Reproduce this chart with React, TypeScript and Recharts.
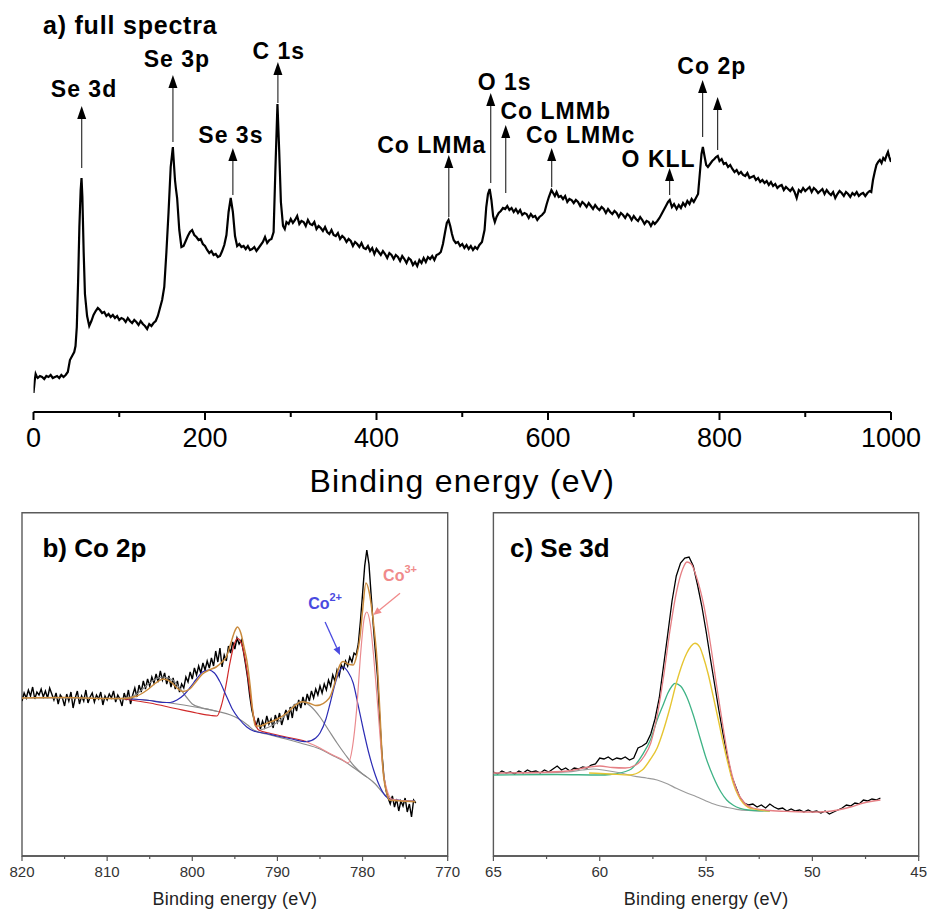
import React from 'react';
import { LineChart, Line, XAxis, YAxis, ReferenceLine, ReferenceDot, ReferenceArea } from 'recharts';

const FONT = '"Liberation Sans", Arial, Helvetica, sans-serif';

// ---------- a) survey spectrum: [binding energy eV, intensity a.u.] ----------
const surveyPoints: [number, number][] = [
  [0,19],[1.5,32],[2.5,38],[4,35],[5,34],[7.5,36],[10,35],[12.5,33],[15,36],[17.5,35],[20,37],[22.5,34],[25,35],[27.5,36],[30,34],[32.5,37],[35,35],[37.5,37],[40,40],[42.5,52],[45,56],[47.5,60],[49,66],[50.5,85],[52,130],[53.5,185],[55,222],[56,234],[57,215],[58.5,160],[60,118],[62.5,96],[65,86],[67.5,91],[70,97],[72.5,101],[75,104],[77.5,102],[80,99],[82.5,100],[85,96],[87.5,98],[90,95],[92.5,97],[95,94],[97.5,96],[100,92],[102.5,94],[105,93],[107.5,90],[110,94],[112.5,91],[115,89],[117.5,92],[120,90],[122.5,87],[125,91],[127.5,88],[130,86],[132.5,83],[135,88],[137.5,86],[140,89],[142.5,91],[145,96],[147.5,104],[150,112],[152.5,125],[155,160],[157.5,200],[160,245],[162.5,265],[164,245],[165,232],[166,224],[167.5,214],[170,182],[172.5,165],[175,166],[177.5,171],[180,176],[182.5,180],[185,182],[187.5,177],[190,175],[192.5,172],[195,173],[197.5,168],[200,166],[202.5,162],[205,159],[207.5,161],[210,157],[212.5,158],[215,155],[217.5,156],[220,161],[222.5,167],[225,177],[227.5,200],[230,214],[232.5,200],[235,176],[237.5,166],[240,168],[242.5,165],[245,166],[247.5,163],[250,166],[252.5,162],[255,163],[257.5,165],[260,161],[262.5,164],[265,167],[267.5,170],[270,175],[272.5,169],[275,172],[277.5,173],[280,180],[282,240],[284.5,308],[286.5,262],[288.5,210],[291,186],[293,183],[295,190],[297.5,188],[300,193],[302.5,189],[305,192],[307.5,196],[310,188],[312.5,191],[315,190],[317.5,186],[320,192],[322.5,188],[325,187],[327.5,190],[330,183],[332.5,186],[335,184],[337.5,181],[340,185],[342.5,180],[345,178],[347.5,182],[350,177],[352.5,176],[355,179],[357.5,173],[360,176],[362.5,174],[365,170],[367.5,173],[370,171],[372.5,166],[375,170],[377.5,168],[380,165],[382.5,169],[385,164],[387.5,163],[390,166],[392.5,161],[395,164],[397.5,158],[400,163],[402.5,160],[405,157],[407.5,161],[410,158],[412.5,154],[415,159],[417.5,157],[420,153],[422.5,157],[425,155],[427.5,151],[430,156],[432.5,153],[435,149],[437.5,154],[440,152],[442.5,147],[445,150],[447.5,146],[450,152],[452.5,149],[455,154],[457.5,150],[460,155],[462.5,153],[465,156],[467.5,152],[470,157],[472.5,158],[475,160],[477.5,168],[480,180],[482,189],[484,192],[486,186],[488,178],[490,172],[492.5,169],[495,170],[497.5,166],[500,168],[502.5,164],[505,167],[507.5,163],[510,166],[512.5,162],[515,165],[517.5,163],[520,167],[523,170],[526,182],[528,205],[530,218],[532,223],[534,212],[536,196],[538,190],[540,195],[542.5,199],[545,201],[547.5,204],[550,203],[552.5,206],[555,202],[557.5,204],[560,200],[562.5,203],[565,199],[567.5,202],[570,197],[572.5,199],[575,198],[577.5,194],[580,198],[582.5,195],[585,196],[587.5,192],[590,195],[593,197],[596,200],[598.5,208],[601,215],[604,222],[606,219],[608,216],[610,220],[612.5,215],[615,216],[617.5,213],[620,216],[622.5,210],[625,213],[627.5,212],[630,209],[632.5,212],[635,210],[637.5,206],[640,210],[642.5,208],[645,205],[647.5,209],[650,206],[652.5,203],[655,207],[657.5,204],[660,202],[662.5,205],[665,203],[667.5,199],[670,203],[672.5,200],[675,198],[677.5,201],[680,199],[682.5,195],[685,199],[687.5,197],[690,194],[692.5,198],[695,196],[697.5,192],[700,196],[702.5,193],[705,191],[707.5,195],[710,192],[712.5,188],[715,191],[717.5,190],[720,186],[722.5,190],[724.5,188],[727.5,191],[730,194],[732.5,198],[735,202],[737.5,206],[740,210],[742,212],[744.5,205],[747,208],[750,203],[752.5,207],[755,204],[757.5,209],[760,206],[762.5,211],[765,208],[767.5,213],[770,210],[772.5,214],[775,218],[777,238],[779,258],[780.6,265],[782.5,256],[784.5,247],[786.5,245],[789,248],[791.5,251],[794,253],[796,255],[798,256],[800,251],[802.5,253],[805,248],[807.5,249],[810,245],[812.5,247],[815,243],[817.5,240],[820,242],[822.5,238],[825,240],[827.5,237],[830,236],[832.5,239],[835,234],[837.5,235],[840,236],[842.5,232],[845,234],[847.5,230],[850,232],[852.5,229],[855,231],[857.5,227],[860,230],[862.5,226],[865,228],[867.5,224],[870,226],[872.5,227],[875,222],[877.5,225],[880,223],[882.5,221],[885,224],[887.5,220],[890,214],[892.5,222],[895,220],[897.5,224],[900,221],[902.5,223],[905,225],[907.5,220],[910,224],[912.5,222],[915,219],[917.5,221],[920,223],[922.5,218],[925,222],[927.5,219],[930,217],[932.5,220],[935,214],[937.5,218],[940,221],[942.5,219],[945,216],[947.5,220],[950,218],[952.5,215],[955,219],[957.5,217],[960,220],[962.5,216],[965,218],[967.5,219],[970,216],[972.5,219],[975,221],[977,220],[979,232],[981,240],[983,247],[985,250],[987,252],[989,249],[991,254],[993,252],[995,257],[996.5,260],[998,255],[1000,250],
];
const surveyTicks = [0, 100, 200, 300, 400, 500, 600, 700, 800, 900, 1000];
const surveyMajorTicks = [0, 200, 400, 600, 800, 1000];

// peak annotations: arrow at energy e from intensity base up to tip, label centred at (labelE, labelI)
const surveyArrows = [
  { label: 'Se 3d', e: 56.2, base: 244, tip: 306, labelE: 58.9, labelI: 323 },
  { label: 'Se 3p', e: 162.6, base: 270, tip: 337, labelE: 167.2, labelI: 353 },
  { label: 'Se 3s', e: 232.5, base: 217, tip: 264, labelE: 230.2, labelI: 277 },
  { label: 'C 1s', e: 285, base: 309, tip: 350, labelE: 286, labelI: 361 },
  { label: 'Co LMMa', e: 484.3, base: 195, tip: 257, labelE: 464.5, labelI: 267 },
  { label: 'O 1s', e: 533.2, base: 229, tip: 319, labelE: 549.5, labelI: 330 },
  { label: 'Co LMMb', e: 550.7, base: 219, tip: 287, labelE: 609, labelI: 301 },
  { label: 'Co LMMc', e: 604.3, base: 225, tip: 264, labelE: 638, labelI: 277 },
  { label: 'O KLL', e: 741.8, base: 217, tip: 244, labelE: 729, labelI: 253 },
  { label: 'Co 2p', e: 780.3, base: 275, tip: 332, labelE: 791, labelI: 346 },
  { label: '', e: 797.8, base: 262, tip: 315, labelE: 797.8, labelI: 315 },
];

// ---------- b) Co 2p ----------
const co2pRaw: [number, number][] = [
  [820,155],[819.75,163],[819.5,158],[819.25,166],[819,160],[818.75,169],[818.5,157],[818.25,164],[818,161],[817.75,167],[817.5,159],[817.25,165],[817,158],[816.75,168],[816.5,162],[816.25,156],[816,163],[815.75,152],[815.5,161],[815.25,158],[815,150],[814.75,162],[814.5,155],[814.25,164],[814,148],[813.75,158],[813.5,165],[813.25,152],[813,160],[812.75,155],[812.5,166],[812.25,153],[812,159],[811.75,163],[811.5,154],[811.25,161],[811,157],[810.75,164],[810.5,151],[810.25,160],[810,156],[809.75,162],[809.5,158],[809.25,165],[809,154],[808.75,161],[808.5,157],[808.25,150],[808,163],[807.75,156],[807.5,166],[807.25,152],[807,161],[806.75,168],[806.5,159],[806.25,171],[806,164],[805.75,175],[805.5,167],[805.25,177],[805,170],[804.75,179],[804.5,173],[804.25,182],[804,174],[803.75,185],[803.5,176],[803.25,183],[803,172],[802.75,180],[802.5,169],[802.25,178],[802,167],[801.75,175],[801.5,164],[801.25,172],[801,168],[800.75,179],[800.5,174],[800.25,184],[800,177],[799.75,188],[799.5,181],[799.25,190],[799,183],[798.75,193],[798.5,186],[798.25,195],[798,188],[797.75,198],[797.5,190],[797.25,205],[797,194],[796.75,208],[796.5,189],[796.25,201],[796,195],[795.75,210],[795.5,203],[795.25,214],[795,207],[794.75,218],[794.5,212],[794.25,216],[794,205],[793.75,192],[793.5,178],[793.25,160],[793,146],[792.75,137],[792.5,130],[792.25,138],[792,127],[791.75,135],[791.5,129],[791.25,140],[791,132],[790.75,137],[790.5,128],[790.25,141],[790,134],[789.75,143],[789.5,131],[789.25,139],[789,146],[788.75,136],[788.5,149],[788.25,138],[788,152],[787.75,145],[787.5,156],[787.25,148],[787,159],[786.75,151],[786.5,162],[786.25,155],[786,165],[785.75,158],[785.5,167],[785.25,161],[785,170],[784.75,163],[784.5,172],[784.25,166],[784,176],[783.75,170],[783.5,181],[783.25,175],[783,186],[782.75,180],[782.5,191],[782.25,187],[782,195],[781.75,190],[781.5,199],[781.25,194],[781,203],[780.75,201],[780.5,212],[780.25,235],[780,262],[779.75,290],[779.5,306],[779.25,292],[779,262],[778.75,232],[778.5,205],[778.25,180],[778,140],[777.75,105],[777.5,80],[777.25,66],[777,58],[776.75,52],[776.5,60],[776.25,49],[776,57],[775.75,45],[775.5,55],[775.25,50],[775,58],[774.75,44],[774.5,52],[774.25,39],[774,56],[773.75,53],
];
const co2pBackground: [number, number][] = [
  [820,158],[815,158],[810,157.5],[807,157],[805,155.5],[803,153.5],[801,151],[799,148],[797,144.5],[795.5,141],[794.5,137],[793.5,131],[792.8,126],[791.3,122],[789,117],[787.3,113],[785,107],[783.4,100],[782,94],[781,88],[780,82],[779.5,79],[778.5,72],[777.6,63],[776.7,57],[775.5,55.5],[773.8,55],
];
const co2pSatHigh: [number, number][] = [
  [809,157.4],[807.5,158.5],[806.5,162],[805.7,168],[804.5,176],[803.4,179],[802.3,176],[801.5,168],[800.7,159],[800,152],[799,148.5],[798,146.5],[797,144.5],
];
const co2pSatLow: [number, number][] = [
  [792,126],[790.5,131],[789.5,137],[788.9,143],[788,151],[787.1,154.3],[786,149],[785,139],[784,126],[783,113],[782,101],[781,90],[780,82],[779.5,79],
];
const co2pCo2: [number, number][] = [
  [808,157.5],[805,155.5],[803.5,153.5],[802.6,153.5],[801.8,156],[801,161],[800.3,168],[799.5,177],[798.8,184],[798.1,186],[797.4,183],[796.8,175],[796,160],[795.3,147],[794.5,137],[793.6,129],[792.8,125],[791.3,122.5],[790,120],[788.3,117],[786.6,114.3],[785.5,118],[785,123],[784.3,137],[783.8,153],[783.3,170],[782.8,183],[782.3,189],[781.7,184],[781.1,173],[780.5,150],[779.9,126],[779.3,104],[778.7,86],[778,70],[777.3,60],[776.7,57],[775.5,55.5],[774,55],
];
const co2pCo3Half: [number, number][] = [
  [808,157],[805,153],[802,147.5],[799.5,143],[797.8,140.5],[797.1,140],[796.6,150],[796.1,168],[795.6,192],[795.1,211],[794.7,217.7],[794.2,212],[793.8,197],[793.4,175],[793,150],[792.6,133],[792.2,126],[791,123],[789,119],[787,115.5],[786.6,114.5],
];
const co2pCo3Main: [number, number][] = [
  [786.6,114.3],[785,108],[783.5,101],[782.5,97],[781.7,93],[781.2,108],[780.7,146],[780.2,205],[779.8,238],[779.5,244],[779.1,232],[778.7,200],[778.3,159],[777.9,115],[777.6,86],[777.1,65],[776.6,57],[775.5,55.5],[774,55],
];
const co2pEnvelope: [number, number][] = [
  [820,158],[815,158.5],[810,157.5],[808,157.5],[806.5,160],[805.3,166],[804.3,173],[803.4,177],[802.5,174],[801.8,168],[801.1,164.5],[800.3,167],[799.5,175],[798.8,182],[798,186],[797.2,189],[796.5,194],[796,199],[795.5,212],[795,225],[794.7,229],[794.3,223],[793.9,208],[793.6,196],[793.2,170],[792.9,145],[792.6,130],[792,130],[791.3,132.5],[790,137],[788.9,143],[788,150],[787.1,154.3],[786.3,153],[785.5,150.5],[785,151],[784.3,154.5],[783.8,159.5],[783.2,175],[782.8,188],[782.3,194.5],[781.7,192],[781.1,191],[780.7,200],[780.3,219],[780,245],[779.6,273],[779.2,263],[778.9,246],[778.6,224],[778.3,196],[778,150],[777.6,86],[777.2,64],[776.8,56],[775.5,55],[773.8,54.3],
];
const co2pTicks = [770, 775, 780, 785, 790, 795, 800, 805, 810, 815, 820];
const co2pMajorTicks = [770, 780, 790, 800, 810, 820];

// ---------- c) Se 3d ----------
const se3dRaw: [number, number][] = [
  [65,84],[64.8,82],[64.6,85],[64.4,83],[64.2,84],[64,82],[63.8,85],[63.6,83],[63.4,86],[63.2,84],[63,85],[62.8,83],[62.6,86],[62.4,84],[62.2,87],[62,90],[61.8,86],[61.6,88],[61.4,85],[61.2,88],[61,87],[60.8,89],[60.6,88],[60.4,91],[60.2,92],[60,98],[59.8,97],[59.6,99],[59.4,96],[59.2,98],[59,97],[58.8,99],[58.6,96],[58.4,98],[58.2,108],[58,110],[57.8,113],[57.6,122],[57.4,137],[57.2,158],[57,190],[56.8,222],[56.6,255],[56.4,280],[56.2,293],[56,298],[55.8,299],[55.6,290],[55.4,271],[55.2,250],[55,225],[54.8,198],[54.6,172],[54.4,146],[54.2,122],[54,100],[53.8,80],[53.6,69],[53.4,58],[53.2,53],[53,51],[52.8,52],[52.6,49],[52.4,51],[52.2,48],[52,52],[51.8,49],[51.6,47],[51.4,48],[51.2,45],[51,47],[50.8,45],[50.6,46],[50.4,44],[50.2,46],[50,44],[49.8,45],[49.6,43],[49.4,45],[49.2,42],[49,44],[48.8,46],[48.6,48],[48.4,51],[48.2,50],[48,53],[47.8,52],[47.6,56],[47.4,55],[47.2,57],[47,56],[46.8,58],
];
const se3dEnvelope: [number, number][] = [
  [65,83],[63,83.5],[61.5,85],[60.5,89],[60,90],[59.4,88.5],[58.8,88],[58.3,91],[57.9,100],[57.6,113],[57.3,140],[57,179],[56.7,225],[56.4,263],[56.1,287],[55.9,294],[55.7,292],[55.45,279],[55.1,250],[54.8,213],[54.5,170],[54.2,129],[53.9,92],[53.56,66],[53.2,53],[52.8,48],[52,45.5],[51,44.5],[50,44],[49.3,44.5],[48.8,46],[48.2,49],[47.6,53],[46.8,56],
];
const se3dBackground: [number, number][] = [
  [65,83],[63,83],[61.5,84],[60.8,86],[60.3,87],[59.7,85.5],[59,83],[58.26,79.3],[57.8,78],[57.3,76],[56.8,72],[56.4,67.7],[55.9,63],[55.45,59.3],[55,55],[54.5,51],[54,48.5],[53.56,46.7],[53,45.5],[52.3,45],
];
const se3dGreen: [number, number][] = [
  [65,81],[62,81.5],[60,81],[59.5,81.5],[58.6,86],[57.95,102.7],[57.6,117],[57.3,136],[57,152],[56.8,162.7],[56.6,170],[56.46,172.7],[56.2,170],[55.91,159.3],[55.6,141],[55.3,119.3],[55,98],[54.66,79.3],[54.3,64],[54.03,56],[53.7,50.5],[53.4,47.7],[53,46],[52,45],
];
const se3dYellow: [number, number][] = [
  [60.5,83],[59.5,82],[58.6,81],[58,86],[57.64,96],[57.3,108],[57,126],[56.7,148],[56.4,172.7],[56.1,193],[55.91,202.7],[55.7,210],[55.52,212.7],[55.3,209],[55.13,199.3],[54.9,182],[54.66,159.3],[54.4,134],[54.19,112.7],[53.95,91],[53.72,72.7],[53.5,61],[53.25,52.7],[53,48.5],[52.6,46.5],[52,45],
];
const se3dTicks = [45, 47.5, 50, 52.5, 55, 57.5, 60, 62.5, 65];
const se3dMajorTicks = [45, 50, 55, 60, 65];

const toRows = (pts: [number, number][]) => pts.map(([e, v]) => ({ e, v }));

// ---------- drawing helpers ----------
const makeTick = (majors: number[], majorLen: number, minorLen: number, labelDy: number, fontSize: number, textColor: string, lineColor: string, lineW: number) =>
  (props: any) => {
    const { x, y, payload } = props;
    const v = payload.value;
    const major = majors.includes(v);
    return (
      <g>
        <line x1={x} x2={x} y1={y} y2={y + (major ? majorLen : minorLen)} stroke={lineColor} strokeWidth={lineW} />
        {major && (
          <text x={x} y={y + labelDy} textAnchor="middle" fontSize={fontSize} fill={textColor} fontFamily={FONT}>
            {v}
          </text>
        )}
      </g>
    );
  };

const arrowShape = (color: string, headLen: number, headW: number, width: number, shaftColor?: string) => (p: any) => {
  const { x1, y1, x2, y2 } = p;
  const dx = x2 - x1;
  const dy = y2 - y1;
  const len = Math.hypot(dx, dy) || 1;
  const ux = dx / len;
  const uy = dy / len;
  const bx = x2 - ux * headLen;
  const by = y2 - uy * headLen;
  const nx = (-uy * headW) / 2;
  const ny = (ux * headW) / 2;
  return (
    <g>
      <line x1={x1} y1={y1} x2={bx} y2={by} stroke={shaftColor || color} strokeWidth={width} />
      <polygon points={`${x2},${y2} ${bx + nx},${by + ny} ${bx - nx},${by - ny}`} fill={color} />
    </g>
  );
};

const textShape = (txt: string, size: number, anchor: string, spacing: number) => (p: any) => (
  <text x={p.cx} y={p.cy} textAnchor={anchor} dominantBaseline="central" fontFamily={FONT} fontWeight="bold" fontSize={size} letterSpacing={spacing} fill="#000">
    {txt}
  </text>
);

const ionShape = (base: string, sup: string, color: string) => (p: any) => (
  <text x={p.cx} y={p.cy} textAnchor="middle" dominantBaseline="central" fontFamily={FONT} fontWeight="bold" fontSize={16} fill={color}>
    {base}
    <tspan dy={-6} fontSize={11}>{sup}</tspan>
  </text>
);

const axisTitle = (dy: number, size: number, color: string, spacing: number) => (p: any) => {
  const vb = p.viewBox || {};
  return (
    <text x={vb.x + vb.width / 2} y={vb.y + dy} textAnchor="middle" fontFamily={FONT} fontSize={size} fill={color} letterSpacing={spacing}>
      Binding energy (eV)
    </text>
  );
};

const SurveyChart = () => (
  <LineChart width={927} height={500} margin={{ top: 12, right: 36, left: 33.5, bottom: 0 }}>
    <XAxis
      type="number"
      dataKey="e"
      domain={[0, 1000]}
      allowDataOverflow
      ticks={surveyTicks}
      interval={0}
      height={88}
      tickSize={0}
      tickMargin={0}
      tickLine={false}
      axisLine={{ stroke: '#000', strokeWidth: 2 }}
      tick={makeTick(surveyMajorTicks, 8, 5, 35, 27, '#000', '#000', 2)}
      label={axisTitle(80, 32, '#000', 1.2)}
    />
    <YAxis type="number" hide domain={[0, 400]} allowDataOverflow />
    <Line data={toRows(surveyPoints)} dataKey="v" type="linear" stroke="#000" strokeWidth={2.2} dot={false} isAnimationActive={false} />
    {surveyArrows.map((a, i) => (
      <ReferenceLine
        key={'a' + i}
        segment={[{ x: a.e, y: a.base }, { x: a.e, y: a.tip }]}
        stroke="#222"
        shape={arrowShape('#000', 13, 9, 1.2, '#333')}
      />
    ))}
    {surveyArrows.filter((a) => a.label).map((a, i) => (
      <ReferenceDot key={'l' + i} x={a.labelE} y={a.labelI} r={1} shape={textShape(a.label, 23, 'middle', 1)} />
    ))}
    <ReferenceDot x={11} y={387} r={1} shape={textShape('a) full spectra', 25, 'start', 0.8)} />
  </LineChart>
);

const Co2pChart = () => (
  <LineChart width={470} height={411} margin={{ top: 12.7, right: 22.3, left: 22, bottom: 0 }}>
    <XAxis
      type="number"
      dataKey="e"
      domain={[770, 820]}
      reversed
      allowDataOverflow
      ticks={co2pTicks}
      interval={0}
      height={55}
      tickSize={0}
      tickMargin={0}
      tickLine={false}
      axisLine={{ stroke: '#555', strokeWidth: 1.4 }}
      tick={makeTick(co2pMajorTicks, 5, 3, 21, 15, '#333', '#555', 1.2)}
      label={axisTitle(49, 18, '#222', 0.3)}
    />
    <YAxis type="number" hide domain={[0, 343.3]} allowDataOverflow />
    <ReferenceArea x1={770} x2={820} y1={0} y2={343.3} fill="none" stroke="#5a5a5a" strokeWidth={1.4} />
    <Line data={toRows(co2pRaw)} dataKey="v" type="linear" stroke="#000" strokeWidth={1.4} dot={false} isAnimationActive={false} />
    <Line data={toRows(co2pBackground)} dataKey="v" type="monotone" stroke="#8c8c8c" strokeWidth={1.2} dot={false} isAnimationActive={false} />
    <Line data={toRows(co2pSatHigh)} dataKey="v" type="monotone" stroke="#8c8c8c" strokeWidth={1.2} dot={false} isAnimationActive={false} />
    <Line data={toRows(co2pSatLow)} dataKey="v" type="monotone" stroke="#8c8c8c" strokeWidth={1.2} dot={false} isAnimationActive={false} />
    <Line data={toRows(co2pCo3Half)} dataKey="v" type="monotone" stroke="#d02a2a" strokeWidth={1.2} dot={false} isAnimationActive={false} />
    <Line data={toRows(co2pCo2)} dataKey="v" type="monotone" stroke="#2c2cb4" strokeWidth={1.2} dot={false} isAnimationActive={false} />
    <Line data={toRows(co2pCo3Main)} dataKey="v" type="monotone" stroke="#ea8a8e" strokeWidth={1.2} dot={false} isAnimationActive={false} />
    <Line data={toRows(co2pEnvelope)} dataKey="v" type="monotone" stroke="#c98a3c" strokeWidth={1.5} dot={false} isAnimationActive={false} />
    <ReferenceLine segment={[{ x: 784.4, y: 234 }, { x: 782.65, y: 201 }]} shape={arrowShape('#4a4ae0', 8, 7, 1.3)} />
    <ReferenceLine segment={[{ x: 775.6, y: 262.7 }, { x: 778.74, y: 241 }]} shape={arrowShape('#f08a8a', 8, 7, 1.3)} />
    <ReferenceDot x={784.4} y={253} r={1} shape={ionShape('Co', '2+', '#4a4ae0')} />
    <ReferenceDot x={775.6} y={281} r={1} shape={ionShape('Co', '3+', '#f08a8a')} />
    <ReferenceDot x={817.6} y={308} r={1} shape={textShape('b) Co 2p', 26, 'start', 0)} />
  </LineChart>
);

const Se3dChart = () => (
  <LineChart width={457} height={411} margin={{ top: 12.7, right: 8.3, left: 23.4, bottom: 0 }}>
    <XAxis
      type="number"
      dataKey="e"
      domain={[45, 65]}
      reversed
      allowDataOverflow
      ticks={se3dTicks}
      interval={0}
      height={55}
      tickSize={0}
      tickMargin={0}
      tickLine={false}
      axisLine={{ stroke: '#555', strokeWidth: 1.4 }}
      tick={makeTick(se3dMajorTicks, 5, 3, 21, 15, '#333', '#555', 1.2)}
      label={axisTitle(49, 18, '#222', 0.3)}
    />
    <YAxis type="number" hide domain={[0, 343.3]} allowDataOverflow />
    <ReferenceArea x1={45} x2={65} y1={0} y2={343.3} fill="none" stroke="#5a5a5a" strokeWidth={1.4} />
    <Line data={toRows(se3dRaw)} dataKey="v" type="linear" stroke="#000" strokeWidth={1.3} dot={false} isAnimationActive={false} />
    <Line data={toRows(se3dBackground)} dataKey="v" type="monotone" stroke="#9b9b9b" strokeWidth={1.2} dot={false} isAnimationActive={false} />
    <Line data={toRows(se3dGreen)} dataKey="v" type="monotone" stroke="#3fb386" strokeWidth={1.3} dot={false} isAnimationActive={false} />
    <Line data={toRows(se3dYellow)} dataKey="v" type="monotone" stroke="#e6c532" strokeWidth={1.4} dot={false} isAnimationActive={false} />
    <Line data={toRows(se3dEnvelope)} dataKey="v" type="monotone" stroke="#e57f84" strokeWidth={1.3} dot={false} isAnimationActive={false} />
    <ReferenceDot x={64.22} y={308} r={1} shape={textShape('c) Se 3d', 26, 'start', 0)} />
  </LineChart>
);

export default function App() {
  return (
    <div style={{ position: 'absolute', left: 0, top: 0, width: 927, height: 911, background: '#fff', overflow: 'hidden', fontFamily: FONT }}>
      <div style={{ position: 'absolute', left: 0, top: 0 }}>
        <SurveyChart />
      </div>
      <div style={{ position: 'absolute', left: 0, top: 500 }}>
        <Co2pChart />
      </div>
      <div style={{ position: 'absolute', left: 470, top: 500 }}>
        <Se3dChart />
      </div>
    </div>
  );
}
